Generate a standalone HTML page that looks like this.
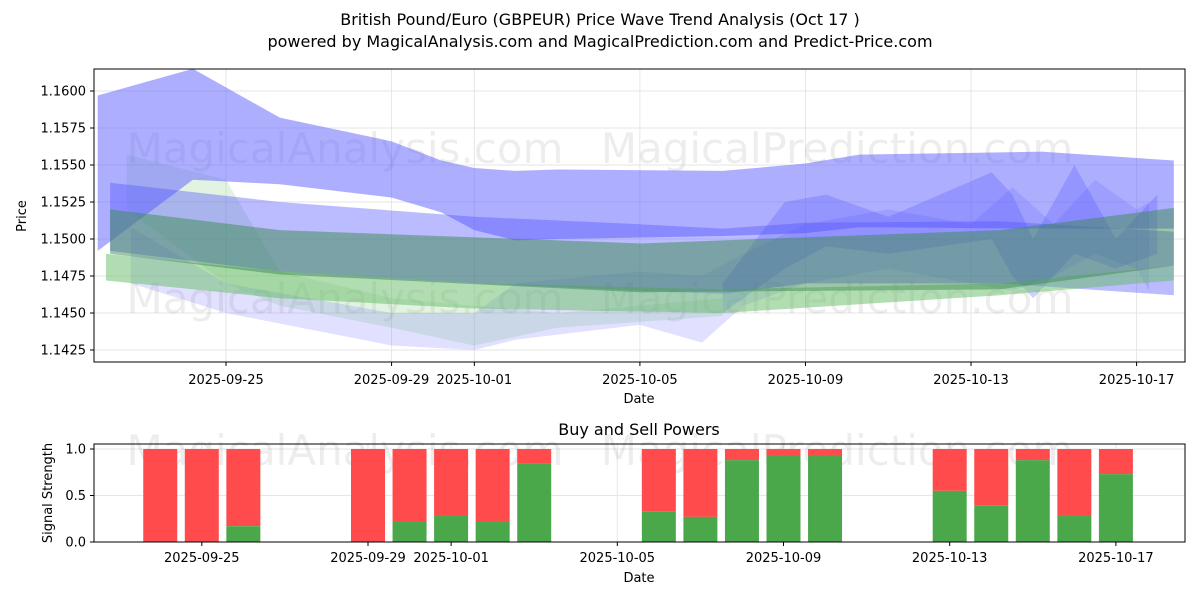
<!DOCTYPE html>
<html><head><meta charset="utf-8">
<style>
body{margin:0;background:#fff;font-family:"Liberation Sans","DejaVu Sans",sans-serif;}
svg text{font-family:"DejaVu Sans","Liberation Sans",sans-serif;}
</style></head>
<body>
<svg id="chart" width="1200" height="600" xmlns="http://www.w3.org/2000/svg">
<text x="600" y="25" text-anchor="middle" font-size="16">British Pound/Euro (GBPEUR) Price Wave Trend Analysis (Oct 17 )</text>
<text x="600" y="47" text-anchor="middle" font-size="16">powered by MagicalAnalysis.com and MagicalPrediction.com and Predict-Price.com</text>
<g id="topchart"></g>
<g id="bottomchart"></g>
</svg>
<script>
// ---- price chart data (day offsets from 2025-09-25) ----
const yTicks=[1.1425,1.1450,1.1475,1.1500,1.1525,1.1550,1.1575,1.1600];
const xTickDays=[0,4,6,10,14,18,22];
const xTickLabels=["2025-09-25","2025-09-29","2025-10-01","2025-10-05","2025-10-09","2025-10-13","2025-10-17"];
const bandADays=[-3.1,-0.8,1.3,4,5.2,6,7,8,12,14,15.3,19.7,22.9];
const bandAHi=[1.1597,1.1615,1.1582,1.1566,1.1553,1.1548,1.1546,1.1547,1.1546,1.1551,1.1557,1.1559,1.1553];
const bandALo=[1.1492,1.1540,1.1537,1.1528,1.1518,1.1506,1.1499,1.1500,1.1502,1.1504,1.1508,1.1507,1.1507];
const bandBDays=[-2.8,1.3,6,10,12,14,18.7,22.9];
const bandBHi=[1.1538,1.1525,1.1515,1.1510,1.1507,1.1511,1.1512,1.1505];
const bandBLo=[1.1492,1.1478,1.1470,1.1465,1.1463,1.1470,1.1470,1.1462];
const bandCDays=[-2.8,1.3,10,18.7,22.9];
const bandCHi=[1.1520,1.1506,1.1497,1.1506,1.1521];
const bandCLo=[1.1490,1.1476,1.1464,1.1466,1.1482];
const bandDDays=[-2.9,1.3,6,12,18.7,22.9];
const bandDHi=[1.1490,1.1478,1.1470,1.1466,1.1470,1.1482];
const bandDLo=[1.1472,1.1460,1.1453,1.1450,1.1462,1.1472];
const bandEDays=[-2.4,0,1.3,4,6,8,12];
const bandEHi=[1.1557,1.1540,1.1478,1.1460,1.1455,1.1450,1.1460];
const bandELo=[1.1520,1.1470,1.1455,1.1440,1.1428,1.1440,1.1448];
const bandFDays=[-2.3,0,4,6,7,10,11.5,12.5,14,16,18,19,20,21,22,22.3];
const bandFHi=[1.1508,1.1470,1.1450,1.1450,1.1470,1.1478,1.1475,1.1490,1.1510,1.1520,1.1510,1.1535,1.1510,1.1540,1.1520,1.1525];
const bandFLo=[1.1470,1.1450,1.1428,1.1425,1.1432,1.1442,1.1430,1.1455,1.1470,1.1480,1.1470,1.1465,1.1475,1.1490,1.1480,1.1465];
const bandGDays=[12,13.5,14.5,16,18.5,19,19.5,20.5,21.5,22.5];
const bandGHi=[1.1470,1.1525,1.1530,1.1515,1.1545,1.1530,1.1500,1.1550,1.1500,1.1530];
const bandGLo=[1.1450,1.1480,1.1495,1.1490,1.1500,1.1475,1.1460,1.1490,1.1480,1.1490];
// ---- signal data ----
const sigDays=[-1,0,1,4,5,6,7,8,11,12,13,14,15,18,19,20,21,22];
const buyVals=[0,0,0.17,0,0.22,0.28,0.22,0.84,0.33,0.27,0.88,0.93,0.93,0.55,0.39,0.88,0.28,0.73];
const sigTicks=[0,0.5,1.0];

const NS="http://www.w3.org/2000/svg";
function mk(tag,attrs,parent){const e=document.createElementNS(NS,tag);for(const k in attrs)e.setAttribute(k,attrs[k]);parent.appendChild(e);return e;}
const topG=document.getElementById('topchart'), botG=document.getElementById('bottomchart');
const L=94,R=1185,T=69,B=362;
const px=d=>226+d*41.39;
const py=v=>91+(1.16-v)/0.0025*37;
const defs=mk('defs',{},topG);
const cp=mk('clipPath',{id:'cp'},defs);mk('rect',{x:L,y:T,width:R-L,height:B-T},cp);
yTicks.forEach(v=>{const l=mk('line',{x1:L,x2:R,y1:py(v),y2:py(v),stroke:'#e6e6e6','stroke-width':1},topG);

const t=mk('text',{x:L-8,y:py(v)+4.5,'text-anchor':'end','font-size':13},topG);t.textContent=v.toFixed(4);

mk('line',{x1:L-4,x2:L,y1:py(v),y2:py(v),stroke:'#000'},topG);});
xTickDays.forEach((d,i)=>{mk('line',{x1:px(d),x2:px(d),y1:T,y2:B,stroke:'#e6e6e6'},topG);
mk('line',{x1:px(d),x2:px(d),y1:B,y2:B+4,stroke:'#000'},topG);
const t=mk('text',{x:px(d),y:B+22,'text-anchor':'middle','font-size':13},topG);t.textContent=xTickLabels[i];
});
[[345,150],[837,150],[345,300],[837,300]].forEach((p,i)=>{const t=mk('text',{x:p[0],y:p[1]+13,'text-anchor':'middle','font-size':42,fill:'#000','fill-opacity':0.07},topG);
t.textContent=i%2?'MagicalPrediction.com':'MagicalAnalysis.com';

});
const g=mk('g',{'clip-path':'url(#cp)'},topG);
function band(days,hi,lo,fill,op,name){let pts=days.map((d,i)=>px(d)+','+py(hi[i]));
for(let i=days.length-1;i>=0;i--)pts.push(px(days[i])+','+py(lo[i]));
const p=mk('polygon',{points:pts.join(' '),fill:fill,'fill-opacity':op},g);

}
band(bandEDays,bandEHi,bandELo,'#7cc87c',0.22,'light-green-wave');
band(bandFDays,bandFHi,bandFLo,'#6a6aff',0.2,'light-blue-wave');
band(bandADays,bandAHi,bandALo,'#5555ff',0.48,'upper-blue-band');
band(bandBDays,bandBHi,bandBLo,'#5555ff',0.4,'middle-blue-band');
band(bandGDays,bandGHi,bandGLo,'#4a4aff',0.25,'right-blue-wave');
band(bandDDays,bandDHi,bandDLo,'#66bb66',0.5,'green-band');
band(bandCDays,bandCHi,bandCLo,'#3c8c50',0.5,'teal-band');
mk('rect',{x:L,y:T,width:R-L,height:B-T,fill:'none',stroke:'#000','stroke-width':1},topG);
let t=mk('text',{x:639,y:403,'text-anchor':'middle','font-size':13},topG);t.textContent='Date';


t=mk('text',{x:0,y:0,'text-anchor':'middle','font-size':13,transform:'translate(26,216) rotate(-90)'},topG);t.textContent='Price';



const BT=444,BB=542;
const bx=d=>368+(d-4)*41.55;
const by=v=>542-v*93;
sigTicks.forEach(v=>{mk('line',{x1:L,x2:R,y1:by(v),y2:by(v),stroke:'#e6e6e6'},botG);
mk('line',{x1:L-4,x2:L,y1:by(v),y2:by(v),stroke:'#000'},botG);
const t=mk('text',{x:L-8,y:by(v)+4.5,'text-anchor':'end','font-size':13},botG);t.textContent=v.toFixed(1);

});
xTickDays.forEach((d,i)=>{mk('line',{x1:bx(d),x2:bx(d),y1:BT,y2:BB,stroke:'#e6e6e6'},botG);
mk('line',{x1:bx(d),x2:bx(d),y1:BB,y2:BB+4,stroke:'#000'},botG);
const t=mk('text',{x:bx(d),y:BB+20,'text-anchor':'middle','font-size':13},botG);t.textContent=xTickLabels[i];

});
[[345,452],[837,452]].forEach((p,i)=>{const t=mk('text',{x:p[0],y:p[1]+13,'text-anchor':'middle','font-size':42,'fill-opacity':0.07},botG);
t.textContent=i?'MagicalPrediction.com':'MagicalAnalysis.com';

});
sigDays.forEach((d,i)=>{const w=34,x=bx(d)-w/2,b=buyVals[i];
const r=mk('rect',{x:x,y:by(1),width:w,height:by(b)-by(1),fill:'#ff4b4b'},botG);


const gr=mk('rect',{x:x,y:by(b),width:w,height:by(0)-by(b),fill:'#4aa84a'},botG);

});
mk('rect',{x:L,y:BT,width:R-L,height:BB-BT,fill:'none',stroke:'#000'},botG);
t=mk('text',{x:639,y:435,'text-anchor':'middle','font-size':16},botG);t.textContent='Buy and Sell Powers';


t=mk('text',{x:639,y:582,'text-anchor':'middle','font-size':13},botG);t.textContent='Date';


t=mk('text',{x:0,y:0,'text-anchor':'middle','font-size':13,transform:'translate(52,493) rotate(-90)'},botG);t.textContent='Signal Strength';


</script>
</body></html>
